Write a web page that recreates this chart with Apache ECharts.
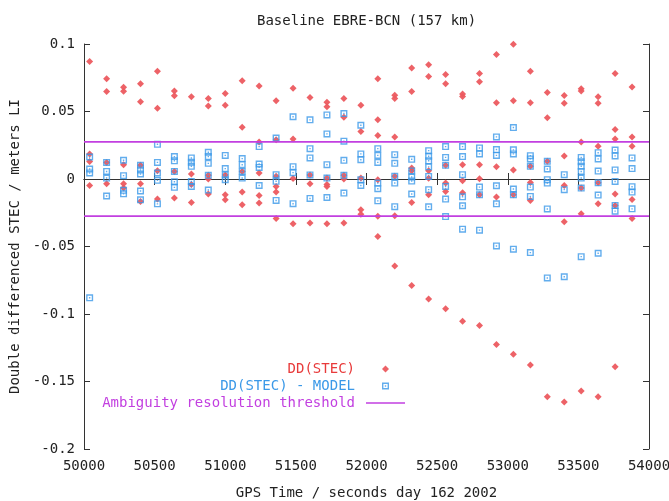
<!DOCTYPE html>
<html>
<head>
<meta charset="utf-8">
<script src="https://cdn.jsdelivr.net/npm/echarts@6/dist/echarts.min.js"></script>
<style>html,body{margin:0;padding:0;background:#fff}#chart{width:669px;height:501px}</style>
</head>
<body>
<div id="chart"></div>
<script>
// GPS time of each epoch column (seconds, day 162 2002)
const times = [50040, 50160, 50280, 50400, 50520, 50640, 50760, 50880, 51000, 51120, 51240,
  51360, 51480, 51600, 51720, 51840, 51960, 52080, 52200, 52320, 52440, 52560, 52680,
  52800, 52920, 53040, 53160, 53280, 53400, 53520, 53640, 53760, 53880];

// DD(STEC) values per epoch column (meters LI)
const ddStec = [
  [0.087, 0.0186, 0.013, -0.0048],
  [0.0743, 0.0649, 0.0123, -0.0035],
  [0.068, 0.065, 0.0106, -0.0035, -0.0067],
  [0.0706, 0.0572, 0.0101, -0.0035, -0.0166],
  [0.0799, 0.0525, 0.0062, -0.0149],
  [0.0651, 0.0617, 0.0056, -0.0141],
  [0.0609, 0.0037, -0.004, -0.0174],
  [0.0597, 0.054, 0.0027, 0, -0.0111],
  [0.0634, 0.0547, 0.003, -0.0117, -0.0153],
  [0.0728, 0.0384, 0.0056, -0.0097, -0.0191],
  [0.0688, 0.0275, 0.0045, -0.0122, -0.0178],
  [0.058, 0.029, 0.002, -0.0055, -0.0097, -0.0293],
  [0.0673, 0.0297, 0.0003, -0.0332],
  [0.0604, 0.003, -0.0035, -0.0325],
  [0.0569, 0.0535, 0.0007, -0.004, -0.0055, -0.0332],
  [0.0597, 0.0458, 0.0027, 0, -0.0325],
  [0.0547, 0.0352, 0.0007, -0.0228, -0.0262],
  [0.0743, 0.0438, 0.0322, -0.0005, -0.0275, -0.0426],
  [0.062, 0.0597, 0.0312, 0.002, -0.0273, -0.0644],
  [0.0822, 0.0649, 0.0082, 0.0062, -0.0174, -0.0788],
  [0.0847, 0.076, 0.0062, 0.0005, -0.0117, -0.0889],
  [0.0775, 0.0706, 0.0101, -0.003, -0.0092, -0.0961],
  [0.063, 0.0612, 0.0106, -0.0013, -0.0102, -0.1053],
  [0.0782, 0.072, 0.0106, 0.0002, -0.0117, -0.1085],
  [0.0923, 0.0565, 0.0091, -0.0134, -0.1226],
  [0.0998, 0.058, 0.0067, -0.0117, -0.1298],
  [0.0799, 0.0565, 0.0094, -0.0025, -0.0159, -0.1377],
  [0.064, 0.0453, 0.0131, -0.1613],
  [0.0619, 0.0562, 0.0171, -0.0048, -0.0317, -0.1652],
  [0.0669, 0.0651, 0.0275, -0.0067, -0.0258, -0.1571],
  [0.0609, 0.0562, 0.0242, -0.0028, -0.0184, -0.1613],
  [0.0782, 0.0366, 0.0297, -0.0111, -0.0196, -0.1391],
  [0.0681, 0.0312, 0.0242, -0.0152, -0.0293]
];

// DD(STEC) - MODEL values per epoch column (meters LI)
const ddStecModel = [
  [0.0163, 0.0074, 0.0045, -0.088],
  [0.0123, 0.0056, 0.0007, -0.0126],
  [0.0139, 0.0025, -0.0084, -0.011],
  [0.0101, 0.0067, 0.0037, -0.0089, -0.0154],
  [0.0257, 0.0123, 0.0045, -0.001, -0.0184],
  [0.0166, 0.0135, 0.0056, -0.002, -0.0062],
  [0.0156, 0.0125, 0.0094, -0.0018, -0.0055],
  [0.0198, 0.0166, 0.0116, 0.0027, -0.0082],
  [0.0175, 0.0077, 0.003, -0.0005],
  [0.0151, 0.0106, 0.0056, 0.0007],
  [0.024, 0.0111, 0.0086, -0.0048],
  [0.0303, 0.0032, -0.0017, -0.0159],
  [0.0461, 0.0091, 0.0047, -0.0183],
  [0.0438, 0.0225, 0.0156, 0.003, -0.0144],
  [0.0475, 0.0334, 0.0106, 0.0007, -0.0137],
  [0.0485, 0.028, 0.0138, 0.0027, -0.0104],
  [0.0398, 0.0186, 0.0143, -0.0005, -0.0048],
  [0.0225, 0.0175, 0.0123, -0.003, -0.0072, -0.0162],
  [0.018, 0.0116, 0.002, -0.003, -0.0205],
  [0.0146, 0.006, 0.0015, -0.0015, -0.0111],
  [0.021, 0.0168, 0.0135, 0.009, 0.0019, -0.0079, -0.0206],
  [0.024, 0.016, 0.0101, -0.0055, -0.0149, -0.0278],
  [0.024, 0.0166, 0.0032, -0.0132, -0.0198, -0.0372],
  [0.023, 0.0186, -0.006, -0.0117, -0.0379],
  [0.0312, 0.0218, 0.0175, -0.005, -0.0184, -0.0496],
  [0.0381, 0.0216, 0.0186, -0.0074, -0.0117, -0.052],
  [0.0173, 0.0149, 0.0094, -0.006, -0.0129, -0.0545],
  [0.0131, 0.0074, -0.0005, -0.003, -0.0222, -0.0733],
  [0.0032, -0.0079, -0.0724],
  [0.016, 0.0127, 0.0094, 0.0056, 0.0007, -0.0067, -0.0575],
  [0.0195, 0.0149, 0.0059, -0.0028, -0.0119, -0.055],
  [0.0215, 0.0171, 0.0067, -0.0018, -0.0196, -0.0238],
  [0.0156, 0.0077, -0.0057, -0.0097, -0.0221]
];

// Ambiguity resolution threshold (meters LI) and its x extent
const threshold = 0.0275;
const thresholdSpan = [50000, 54000];

// Axis ranges and tick labels
const xRange = [50000, 54000];
const xStep = 500;
const yRange = [-0.2, 0.1];
const yStep = 0.05;
const yTickLabels = ['-0.2', '-0.15', '-0.1', '-0.05', '0', '0.05', '0.1'];

const seriesNames = ['DD(STEC)', 'DD(STEC) - MODEL', 'Ambiguity resolution threshold'];

function pairs(cols) {
  const out = [];
  cols.forEach((vals, i) => vals.forEach(v => out.push([times[i], v])));
  return out;
}

const FONT = 'DejaVu Sans Mono';
const RED = '#ec5a5f';
const BLUE = '#3b99e8';
const PURPLE = '#c23fe0';
const boxPath = 'path://M0 0H10V10H0Z M2 2V8H8V2Z M4 4H6V6H4Z';
const diamondPath = 'path://M5 0L10 5L5 10L0 5Z';
const linePath = 'path://M0 0H78V3H0Z';

const chart = echarts.init(document.getElementById('chart'), null, {renderer: 'canvas'});

function legendFor(name, icon, color, top, w, right, pad) {
  return {
    data: [{name: name, icon: icon}],
    right: right,
    top: top,
    orient: 'vertical',
    align: 'right',
    itemWidth: w,
    itemHeight: 7,
    selectedMode: false,
    symbolKeepAspect: true,
    textStyle: {color: color, fontFamily: FONT, fontSize: 14, padding: [0, pad, 0, 0]}
  };
}

const axisCommon = {
  axisLine: {show: true, lineStyle: {color: '#333', width: 1}},
  axisTick: {show: true, inside: true, length: 6, lineStyle: {color: '#333'}},
  splitLine: {show: false}
};

chart.setOption({
  animation: false,
  backgroundColor: '#fff',
  title: {
    text: 'Baseline EBRE-BCN (157 km)',
    left: 252,
    top: 9,
    textStyle: {fontFamily: FONT, fontSize: 14, fontWeight: 'normal', color: '#222'}
  },
  legend: [
    legendFor(seriesNames[0], diamondPath, '#e83a3a', 357, 7, 275, 22),
    legendFor(seriesNames[1], boxPath, BLUE, 374, 7, 275, 22),
    legendFor(seriesNames[2], linePath, PURPLE, 391, 39, 259, 6)
  ],
  grid: {left: 84, right: 20, top: 44, bottom: 52, containLabel: false, outerBoundsMode: 'none'},
  xAxis: [
    Object.assign({}, axisCommon, {
      type: 'value', min: xRange[0], max: xRange[1], interval: xStep, position: 'bottom',
      name: 'GPS Time / seconds day 162 2002', nameLocation: 'middle', nameGap: 37,
      nameTextStyle: {fontFamily: FONT, fontSize: 14, color: '#222'},
      axisLabel: {fontFamily: FONT, fontSize: 14, color: '#222', margin: 10,
        formatter: v => String(v)}
    }),
    Object.assign({}, axisCommon, {
      type: 'value', min: xRange[0], max: xRange[1], interval: xStep, position: 'top',
      axisLabel: {show: false}
    })
  ],
  yAxis: [
    Object.assign({}, axisCommon, {
      type: 'value', min: yRange[0], max: yRange[1], interval: yStep, position: 'left',
      name: 'Double differenced STEC / meters LI', nameLocation: 'middle', nameGap: 56,
      nameRotate: 90,
      nameTextStyle: {fontFamily: FONT, fontSize: 14, color: '#222'},
      axisLabel: {
        fontFamily: FONT, fontSize: 14, color: '#222', margin: 9,
        formatter: v => {
          const i = Math.round((v - yRange[0]) / yStep);
          return yTickLabels[i];
        }
      }
    }),
    Object.assign({}, axisCommon, {
      type: 'value', min: yRange[0], max: yRange[1], interval: yStep, position: 'right',
      axisLabel: {show: false}
    })
  ],
  series: [
    {
      name: seriesNames[0], type: 'scatter', xAxisIndex: 0, yAxisIndex: 0,
      symbol: 'diamond', symbolSize: 7,
      itemStyle: {color: RED, opacity: 0.95},
      data: pairs(ddStec)
    },
    {
      name: seriesNames[1], type: 'scatter', xAxisIndex: 0, yAxisIndex: 0,
      symbol: boxPath, symbolSize: 7,
      itemStyle: {color: BLUE},
      data: pairs(ddStecModel)
    },
    {
      name: seriesNames[2], type: 'line', xAxisIndex: 0, yAxisIndex: 0,
      symbol: 'none', lineStyle: {color: PURPLE, width: 1.6}, itemStyle: {color: PURPLE},
      data: [[thresholdSpan[0], threshold], [thresholdSpan[1], threshold]]
    },
    {
      name: seriesNames[2], type: 'line', xAxisIndex: 0, yAxisIndex: 0,
      symbol: 'none', lineStyle: {color: PURPLE, width: 1.6}, itemStyle: {color: PURPLE},
      data: [[thresholdSpan[0], -threshold], [thresholdSpan[1], -threshold]]
    }
  ]
});
</script>
</body>
</html>
